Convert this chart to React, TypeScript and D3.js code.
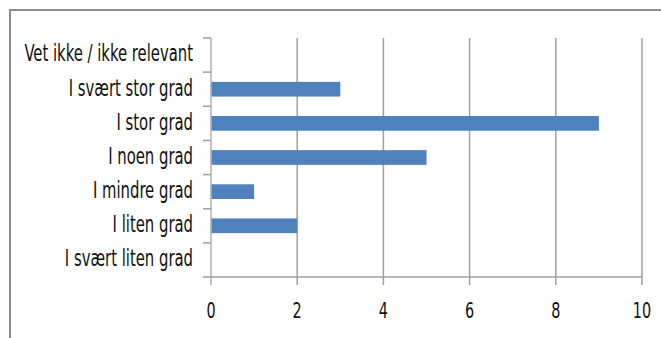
import { useEffect, useRef } from 'react';
import * as d3 from 'd3';

const categories = [
  'Vet ikke / ikke relevant',
  'I svært stor grad',
  'I stor grad',
  'I noen grad',
  'I mindre grad',
  'I liten grad',
  'I svært liten grad',
];
const values = [0, 3, 9, 5, 1, 2, 0];
const xTicks = [0, 2, 4, 6, 8, 10];

const FONT = '"DejaVu Sans Condensed", "Liberation Sans Narrow", sans-serif';

export default function App() {
  const svgRef = useRef<SVGSVGElement>(null);

  useEffect(() => {
    if (!svgRef.current) return;
    const width = 661;
    const height = 338;
    const svg = d3.select(svgRef.current);
    svg.selectAll('*').remove();

    // outer frame (runs off the right and bottom edges)
    svg
      .append('rect')
      .attr('x', 10)
      .attr('y', 10)
      .attr('width', 700)
      .attr('height', 400)
      .attr('fill', '#fff')
      .attr('stroke', '#8c8c8c')
      .attr('stroke-width', 2);

    const margin = { top: 38, right: 19, bottom: 61, left: 211 };
    const innerW = width - margin.left - margin.right;
    const innerH = height - margin.top - margin.bottom;

    const g = svg.append('g').attr('transform', `translate(${margin.left},${margin.top})`);

    const x = d3.scaleLinear().domain([0, 10]).range([0, innerW]);
    const y = d3.scaleBand().domain(categories).range([0, innerH]).paddingInner(0.57).paddingOuter(0.285);
    const yStep = innerH / categories.length;

    // vertical gridlines
    g.selectAll('.grid')
      .data(xTicks.slice(1))
      .enter()
      .append('line')
      .attr('x1', (d) => x(d))
      .attr('x2', (d) => x(d))
      .attr('y1', 0)
      .attr('y2', innerH + 8)
      .attr('stroke', '#a0a0a0')
      .attr('stroke-width', 1.5);

    // bars
    g.selectAll('.bar')
      .data(categories)
      .enter()
      .append('rect')
      .attr('x', 0)
      .attr('y', (d) => y(d) ?? 0)
      .attr('width', (d, i) => x(values[i]))
      .attr('height', y.bandwidth())
      .attr('fill', '#4f81bd');

    // y axis line + category boundary ticks
    g.append('line')
      .attr('x1', 0)
      .attr('x2', 0)
      .attr('y1', 0)
      .attr('y2', innerH + 8)
      .attr('stroke', '#b0b0b0')
      .attr('stroke-width', 1.5);
    g.selectAll('.ytick')
      .data(d3.range(categories.length))
      .enter()
      .append('line')
      .attr('x1', -8)
      .attr('x2', 0)
      .attr('y1', (d) => d * yStep)
      .attr('y2', (d) => d * yStep)
      .attr('stroke', '#a0a0a0')
      .attr('stroke-width', 1.5);

    // x axis line
    g.append('line')
      .attr('x1', -8)
      .attr('x2', innerW)
      .attr('y1', innerH)
      .attr('y2', innerH)
      .attr('stroke', '#a0a0a0')
      .attr('stroke-width', 1.5);

    // labels are drawn tall and narrow, like the original
    const stretch = 'scale(1,1.38)';

    // x tick labels
    g.selectAll('.xlabel')
      .data(xTicks)
      .enter()
      .append('g')
      .attr('transform', (d) => `translate(${x(d)},${innerH + 35}) ${stretch}`)
      .append('text')
      .attr('dominant-baseline', 'middle')
      .attr('text-anchor', 'middle')
      .style('font-family', FONT)
      .style('font-size', '16px')
      .style('fill', '#111')
      .text((d) => d);

    // y category labels
    g.selectAll('.ylabel')
      .data(categories)
      .enter()
      .append('g')
      .attr('transform', (d) => `translate(-18,${(y(d) ?? 0) + y.bandwidth() / 2}) ${stretch}`)
      .append('text')
      .attr('dominant-baseline', 'middle')
      .attr('text-anchor', 'end')
      .style('font-family', FONT)
      .style('font-size', '16.5px')
      .style('fill', '#111')
      .text((d) => d);
  }, []);

  return (
    <svg
      ref={svgRef}
      width={661}
      height={338}
      style={{ position: 'absolute', left: 0, top: 0, display: 'block' }}
    />
  );
}
